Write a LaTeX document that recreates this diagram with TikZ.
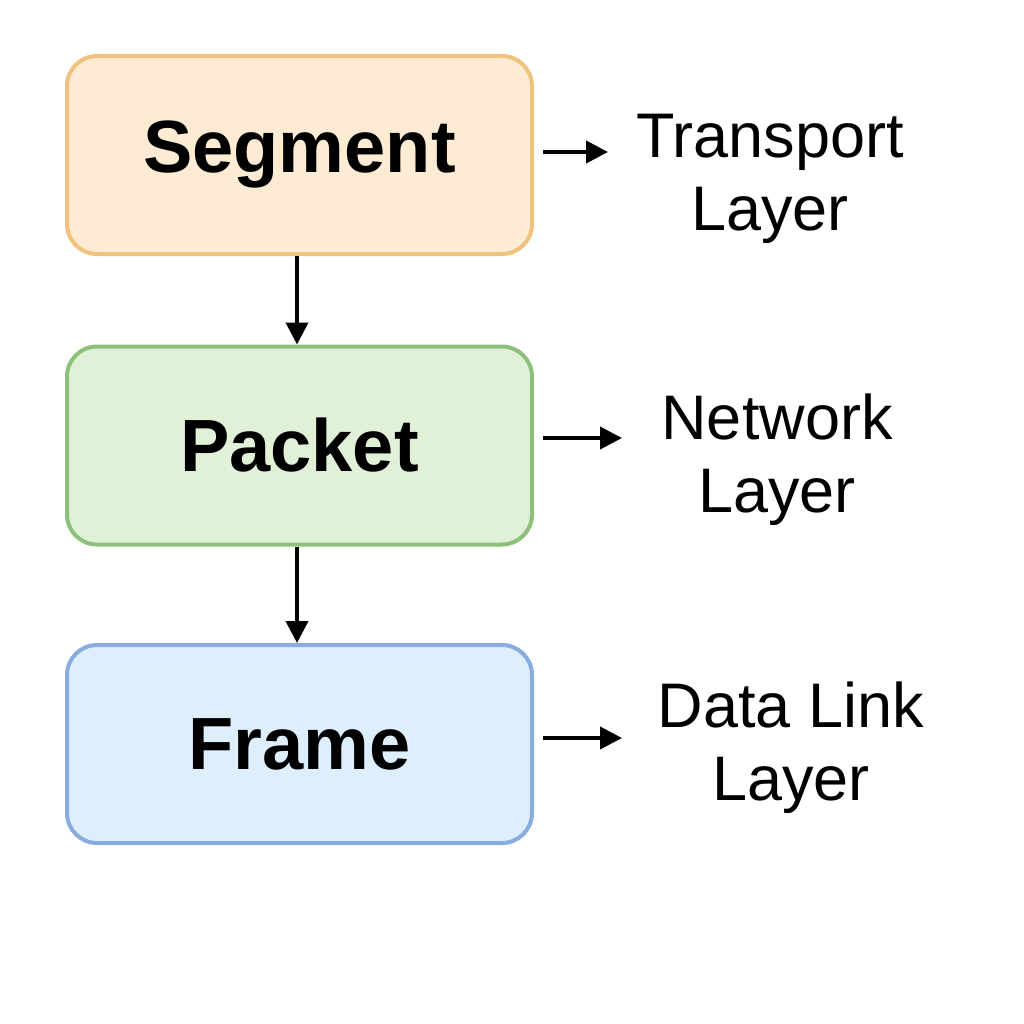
\documentclass[tikz,border=0pt]{standalone}
\usepackage{fontspec}
\setmainfont{Liberation Sans}
\usetikzlibrary{arrows.meta}
\definecolor{segfill}{HTML}{FDEBD3}
\definecolor{segline}{HTML}{F0C27E}
\definecolor{pktfill}{HTML}{E0F1D8}
\definecolor{pktline}{HTML}{8DC07B}
\definecolor{frmfill}{HTML}{DDEEFC}
\definecolor{frmline}{HTML}{8AADE0}
\tikzset{
  layerbox/.style={rounded corners=30pt, line width=4pt, minimum width=465pt, minimum height=198pt, inner sep=0pt, font=\fontsize{74}{80}\selectfont\bfseries},
  arr/.style={line width=4pt, -{Triangle[width=22pt,length=22pt]}},
  lbl/.style={align=center, font=\fontsize{63}{73}\selectfont, inner sep=0pt}
}
\begin{document}
\begin{tikzpicture}[x=1pt,y=-1pt]
\useasboundingbox (0,0) rectangle (1024,1024);
\node[layerbox, fill=segfill, draw=segline] (seg) at (299.5,155) {Segment};
\node[layerbox, fill=pktfill, draw=pktline] (pkt) at (299.5,445.5) {Packet};
\node[layerbox, fill=frmfill, draw=frmline] (frm) at (299.5,744) {Frame};
\node[lbl] (tl) at (770,179) {Transport\\Layer};
\node[lbl] (nl) at (777,460) {Network\\Layer};
\node[lbl] (dl) at (791,748) {Data Link\\Layer};
\coordinate (a1) at (608,152);
\coordinate (a2) at (622,438);
\coordinate (a3) at (622,738);
\draw[arr] (seg.south -| 297,0) -- (pkt.north -| 297,0);
\draw[arr] (pkt.south -| 297,0) -- (frm.north -| 297,0);
\draw[arr] (543,152) -- (a1);
\draw[arr] (543,438) -- (a2);
\draw[arr] (543,738) -- (a3);
\end{tikzpicture}
\end{document}
